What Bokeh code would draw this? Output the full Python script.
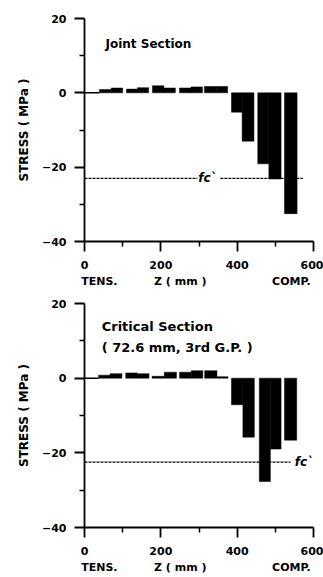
from bokeh.plotting import figure
from bokeh.models import FixedTicker, Label, Range1d, LinearAxis
from bokeh.layouts import column
from bokeh.embed import file_html
from bokeh.resources import INLINE

# ---- data: Joint Section ----
joint_z_left = [39, 70, 110, 139, 178, 208, 249, 279, 314, 345, 385, 413, 454, 483, 524]
joint_z_right = [70, 100, 139, 168, 208, 238, 279, 309, 345, 375, 413, 444, 483, 515, 557]
joint_stress = [0.9, 1.3, 1.0, 1.4, 1.9, 1.3, 1.3, 1.6, 1.7, 1.7, -5.2, -13.0, -19.1, -23.2, -32.5]
joint_fc = -23.0
joint_fc_x0 = [0, 356]
joint_fc_x1 = [296, 572]
joint_fc_label_x = 322

# ---- data: Critical Section ----
crit_z_left = [37, 67, 108, 138, 177, 209, 249, 280, 315, 347, 385, 415, 458, 487, 524]
crit_z_right = [67, 98, 138, 169, 209, 241, 280, 310, 347, 376, 415, 445, 487, 515, 556]
crit_stress = [0.8, 1.2, 1.4, 1.2, 0.5, 1.6, 1.6, 2.0, 2.0, 0.4, -7.1, -15.8, -27.7, -19.0, -16.6]
crit_fc = -22.5
crit_fc_x0 = [0]
crit_fc_x1 = [540]
crit_fc_label_x = 575

x_major = [0, 200, 400, 600]
x_minor = [100, 300, 500]
y_major = [-40, -20, 0, 20]
y_minor = [-30, -10, 10]
x_under_labels = ["TENS.", "Z ( mm )", "COMP."]
x_under_pos = [39, 251, 542]

FONT = "DejaVu Sans"


def style_axis(ax):
    ax.axis_line_color = "black"
    ax.axis_line_width = 1.8
    ax.major_tick_line_color = "black"
    ax.major_tick_line_width = 1.8
    ax.minor_tick_line_color = "black"
    ax.minor_tick_line_width = 1.5
    ax.major_tick_out = 10
    ax.major_tick_in = 0
    ax.minor_tick_out = 5
    ax.minor_tick_in = 0
    ax.major_label_text_font = FONT
    ax.major_label_text_font_size = "11px"
    ax.major_label_text_font_style = "bold"
    ax.major_label_text_color = "black"
    ax.axis_label_text_font = FONT
    ax.axis_label_text_font_size = "12px"
    ax.axis_label_text_font_style = "bold"
    ax.axis_label_text_color = "black"


def make_panel(z_left, z_right, stress, fc, fc_x0, fc_x1, fc_label_x,
               titles, title_x, title_ys, title_size, border_top, frame_h, border_bottom):
    p = figure(width=323, height=border_top + frame_h + border_bottom, output_backend="svg",
               toolbar_location=None,
               x_range=Range1d(0, 600), y_range=Range1d(-40, 20),
               min_border_left=84, min_border_right=10, min_border_top=border_top,
               min_border_bottom=border_bottom)
    p.grid.visible = False
    p.outline_line_color = None
    p.background_fill_color = "white"
    p.border_fill_color = "white"

    tops = [max(s, 0) for s in stress]
    bottoms = [min(s, 0) for s in stress]
    p.quad(left=z_left, right=z_right, top=tops, bottom=bottoms,
           fill_color="black", line_color="black", line_width=0.5)
    p.segment(x0=[0], x1=[z_left[0]], y0=[0], y1=[0], line_color="black", line_width=1.5)

    p.segment(x0=fc_x0, x1=fc_x1, y0=[fc] * len(fc_x0), y1=[fc] * len(fc_x0),
              line_color="black", line_width=1.3, line_dash="3 1")
    p.add_layout(Label(x=fc_label_x, y=fc, text="fc`", text_align="center",
                       text_baseline="middle", text_font=FONT, text_font_size="12px",
                       text_font_style="bold italic", text_color="black"))

    for t, ty in zip(titles, title_ys):
        p.add_layout(Label(x=title_x, y=ty, text=t, text_align="left",
                           text_baseline="middle", text_font=FONT, text_font_size=title_size,
                           text_font_style="bold", text_color="black"))

    xa = p.xaxis[0]
    xa.ticker = FixedTicker(ticks=x_major, minor_ticks=x_minor)
    ya = p.yaxis[0]
    ya.ticker = FixedTicker(ticks=y_major, minor_ticks=y_minor)
    ya.axis_label = "STRESS ( MPa )"
    ya.axis_label_standoff = 8
    style_axis(xa)
    style_axis(ya)
    xa.major_label_standoff = 9
    ya.major_label_standoff = 8

    under = LinearAxis(ticker=FixedTicker(ticks=x_under_pos),
                       major_label_overrides={v: t for v, t in zip(x_under_pos, x_under_labels)})
    style_axis(under)
    under.axis_line_color = None
    under.major_tick_line_color = None
    under.minor_tick_line_color = None
    under.major_tick_out = 0
    under.minor_tick_out = 0
    under.major_label_standoff = 3
    p.add_layout(under, "below")
    return p


p1 = make_panel(joint_z_left, joint_z_right, joint_stress, joint_fc, joint_fc_x0, joint_fc_x1,
                joint_fc_label_x, ["Joint Section"], 55, [13.1], "12px", 18, 224, 48)
p2 = make_panel(crit_z_left, crit_z_right, crit_stress, crit_fc, crit_fc_x0, crit_fc_x1,
                crit_fc_label_x, ["Critical Section", "( 72.6 mm, 3rd G.P. )"], 45,
                [13.9, 8.1], "13px", 13, 225, 48)

layout = column(p1, p2, spacing=0)
open("out.html", "w").write(file_html(layout, INLINE))
